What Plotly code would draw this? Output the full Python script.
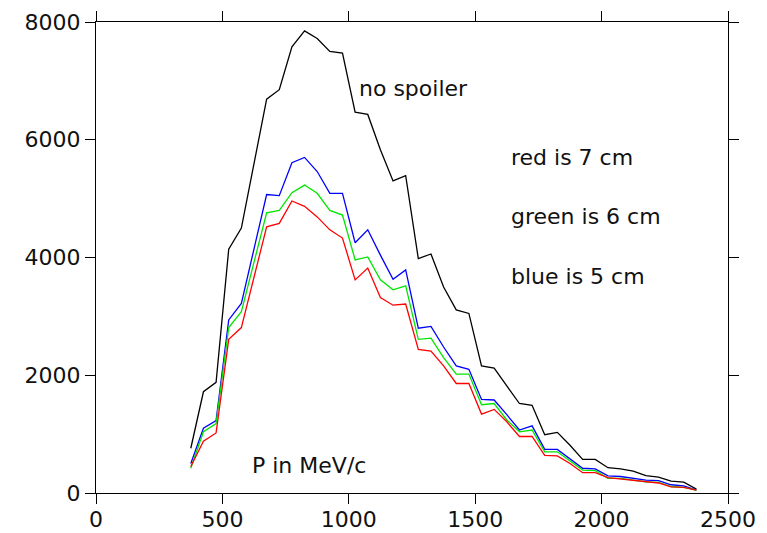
import plotly.graph_objects as go

momentum = [375, 425, 475, 525, 575, 625, 675, 725, 775, 825, 875, 925, 975, 1025,
            1075, 1125, 1175, 1225, 1275, 1325, 1375, 1425, 1475, 1525, 1575, 1625,
            1675, 1725, 1775, 1825, 1875, 1925, 1975, 2025, 2075, 2125, 2175, 2225,
            2275, 2325, 2375]

no_spoiler = [760, 1720, 1880, 4140, 4500, 5600, 6690, 6850, 7580, 7850, 7720, 7500,
              7470, 6470, 6430, 5830, 5300, 5390, 3980, 4060, 3500, 3110, 3050, 2160,
              2120, 1820, 1520, 1490, 990, 1030, 810, 570, 570, 430, 410, 370, 295,
              270, 200, 185, 65]

blue_5cm = [500, 1100, 1230, 2940, 3220, 4150, 5070, 5050, 5610, 5700, 5460, 5090,
            5090, 4250, 4470, 4040, 3630, 3790, 2800, 2830, 2480, 2160, 2100, 1590,
            1580, 1330, 1070, 1140, 740, 740, 580, 420, 410, 290, 280, 250, 220, 210,
            140, 120, 50]

green_6cm = [420, 1040, 1180, 2810, 3080, 3900, 4760, 4800, 5100, 5230, 5090, 4800,
             4720, 3960, 4010, 3620, 3450, 3520, 2610, 2630, 2300, 2020, 2020, 1500,
             1520, 1240, 1040, 1070, 700, 700, 550, 390, 380, 250, 250, 220, 190, 180,
             110, 95, 50]

red_7cm = [450, 880, 1020, 2610, 2810, 3650, 4520, 4580, 4960, 4870, 4690, 4470,
           4330, 3620, 3820, 3320, 3190, 3210, 2440, 2410, 2160, 1860, 1860, 1340,
           1420, 1210, 960, 960, 640, 630, 500, 345, 345, 260, 240, 215, 190, 170,
           105, 95, 50]

x_ticks = [0, 500, 1000, 1500, 2000, 2500]
y_ticks = [0, 2000, 4000, 6000, 8000]

FONT = "DejaVu Sans"

fig = go.Figure()
for name, ys, col in [("no spoiler", no_spoiler, "#000000"),
                      ("blue is 5 cm", blue_5cm, "#0000ff"),
                      ("green is 6 cm", green_6cm, "#00e600"),
                      ("red is 7 cm", red_7cm, "#ff0000")]:
    fig.add_trace(go.Scatter(x=momentum, y=ys, mode="lines", name=name,
                             line=dict(color=col, width=1.3), showlegend=False))

annots = [("no spoiler", 1034, 6876), ("red is 7 cm", 1632, 5705),
          ("green is 6 cm", 1632, 4703), ("blue is 5 cm", 1632, 3684),
          ("P in MeV/c", 610, 475)]
for txt, ax_, ay_ in annots:
    fig.add_annotation(x=ax_, y=ay_, xref="x", yref="y", text=txt, showarrow=False,
                       xanchor="left", yanchor="middle",
                       font=dict(family=FONT, size=22, color="#111111"))

axis_common = dict(showline=True, linecolor="#000000", linewidth=1.3,
                   mirror="ticks", ticks="outside", ticklen=10, tickwidth=1.3,
                   tickcolor="#000000", showgrid=False, zeroline=False,
                   automargin=False,
                   tickfont=dict(family=FONT, size=22, color="#111111"))

fig.update_xaxes(range=[0, 2500], tickvals=x_ticks, ticklabelstandoff=-4,
                 ticktext=[str(v) for v in x_ticks], **axis_common)
fig.update_yaxes(range=[0, 8000], tickvals=y_ticks,
                 ticktext=[str(v) for v in y_ticks], **axis_common)

fig.update_layout(width=767, height=533,
                  margin=dict(l=96, r=39, t=22, b=40, autoexpand=False),
                  plot_bgcolor="white", paper_bgcolor="white")

fig.write_html("out.html", config={"displayModeBar": False},
               post_script="document.body.style.margin='0';")
